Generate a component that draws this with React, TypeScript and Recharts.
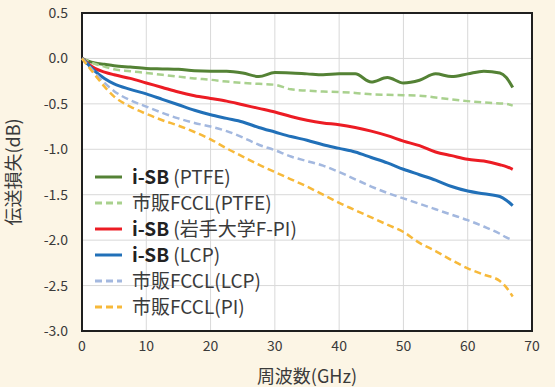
import { LineChart, Line, XAxis, YAxis, CartesianGrid, ReferenceArea } from 'recharts';

const freqGHz = [0, 1, 2, 3.5, 5, 7.5, 10, 12.5, 15, 17.5, 20, 22.5, 25, 27.5, 30, 32.5, 35, 37.5, 40, 42.5, 45, 47.5, 50, 52.5, 55, 57.5, 60, 62.5, 65, 66, 67];

const iSbPtfe = [0, -0.03, -0.05, -0.065, -0.08, -0.095, -0.11, -0.115, -0.12, -0.135, -0.14, -0.14, -0.16, -0.2, -0.155, -0.16, -0.17, -0.18, -0.17, -0.17, -0.26, -0.21, -0.27, -0.24, -0.17, -0.2, -0.17, -0.14, -0.16, -0.21, -0.32];
const fcclPtfe = [0, -0.03, -0.06, -0.09, -0.12, -0.14, -0.16, -0.18, -0.2, -0.22, -0.235, -0.255, -0.27, -0.28, -0.29, -0.34, -0.355, -0.365, -0.37, -0.38, -0.395, -0.4, -0.405, -0.41, -0.43, -0.45, -0.47, -0.485, -0.495, -0.5, -0.52];
const iSbFpi = [0, -0.06, -0.11, -0.15, -0.18, -0.22, -0.27, -0.32, -0.37, -0.41, -0.44, -0.47, -0.51, -0.55, -0.59, -0.64, -0.68, -0.71, -0.73, -0.76, -0.8, -0.85, -0.91, -0.96, -1.03, -1.07, -1.11, -1.13, -1.17, -1.19, -1.22];
const iSbLcp = [0, -0.07, -0.14, -0.22, -0.28, -0.34, -0.39, -0.45, -0.51, -0.57, -0.62, -0.66, -0.7, -0.76, -0.81, -0.86, -0.9, -0.95, -0.99, -1.03, -1.09, -1.15, -1.22, -1.28, -1.34, -1.41, -1.46, -1.49, -1.52, -1.56, -1.62];
const fcclLcp = [0, -0.08, -0.16, -0.27, -0.36, -0.46, -0.53, -0.6, -0.66, -0.71, -0.75, -0.8, -0.87, -0.95, -1.01, -1.08, -1.13, -1.18, -1.25, -1.33, -1.41, -1.48, -1.54, -1.6, -1.66, -1.72, -1.78, -1.85, -1.93, -1.97, -2.0];
const fcclPi = [0, -0.09, -0.18, -0.31, -0.42, -0.53, -0.61, -0.68, -0.74, -0.81, -0.89, -0.99, -1.08, -1.17, -1.25, -1.33, -1.41, -1.5, -1.59, -1.67, -1.75, -1.83, -1.91, -2.03, -2.12, -2.22, -2.31, -2.38, -2.45, -2.52, -2.62];

const xTicks = [0, 10, 20, 30, 40, 50, 60, 70];
const yTicks = [0.5, 0, -0.5, -1, -1.5, -2, -2.5, -3];

const series = [
  { key: 'iSbPtfe', bold: 'i-SB', rest: ' (PTFE)', color: '#548235', dash: undefined, values: iSbPtfe },
  { key: 'fcclPtfe', bold: '', rest: '市販FCCL(PTFE)', color: '#A9D18E', dash: '7 4', values: fcclPtfe },
  { key: 'iSbFpi', bold: 'i-SB', rest: ' (岩手大学F-PI)', color: '#EC1C24', dash: undefined, values: iSbFpi },
  { key: 'iSbLcp', bold: 'i-SB', rest: ' (LCP)', color: '#2170B8', dash: undefined, values: iSbLcp },
  { key: 'fcclLcp', bold: '', rest: '市販FCCL(LCP)', color: '#A3B8DF', dash: '7 4', values: fcclLcp },
  { key: 'fcclPi', bold: '', rest: '市販FCCL(PI)', color: '#F7B93A', dash: '7 4', values: fcclPi },
];

const data = freqGHz.map((f, i) => {
  const row: Record<string, number> = { f };
  series.forEach((s) => { row[s.key] = s.values[i]; });
  return row;
});

const FONT = '"Noto Sans CJK JP", "Noto Sans", sans-serif';
const TEXT = '#3a3a3a';

// legend sits inside the plot, bottom-left, no box
function LegendBox() {
  return (
    <svg width={320} height={166} style={{ position: 'absolute', left: 90, top: 160 }}>
      {series.map((s, i) => {
        const y = 17 + i * 26;
        return (
          <g key={s.key}>
            <line x1={5} x2={32} y1={y} y2={y} stroke={s.color} strokeWidth={3} strokeDasharray={s.dash} />
            <text x={42} y={y} dy="0.36em" fontSize={19} fill={TEXT} fontFamily={FONT}>
              {s.bold && <tspan fontWeight={700} fill="#222">{s.bold}</tspan>}
              <tspan>{s.rest}</tspan>
            </text>
          </g>
        );
      })}
    </svg>
  );
}

export default function App() {
  return (
    <div style={{ position: 'fixed', left: 0, top: 0, width: 555, height: 387, background: '#FCF5E5', fontFamily: FONT }}>
      <LineChart width={555} height={387} data={data} margin={{ top: 13, right: 23, left: 0, bottom: 0 }}>
        <CartesianGrid stroke="#D9D9D9" fill="#fff" horizontalValues={yTicks} verticalValues={xTicks} />
        <XAxis
          dataKey="f"
          type="number"
          domain={[0, 70]}
          ticks={xTicks}
          height={56}
          tickLine={false}
          axisLine={false}
          tickMargin={4}
          tick={{ fontSize: 14, fill: TEXT, fontFamily: FONT }}
          label={{ value: '周波数(GHz)', position: 'insideBottom', offset: 4, fontSize: 18, fill: TEXT, fontFamily: FONT }}
        />
        <YAxis
          type="number"
          domain={[-3, 0.5]}
          ticks={yTicks}
          width={82}
          tickLine={false}
          axisLine={false}
          tickMargin={8}
          tickFormatter={(v: number) => v.toFixed(1)}
          tick={{ fontSize: 14, fill: TEXT, fontFamily: FONT }}
          label={{ value: '伝送損失(dB)', angle: -90, position: 'insideLeft', offset: 14, fontSize: 18, fill: TEXT, fontFamily: FONT, style: { textAnchor: 'middle' } }}
        />
        {series.map((s) => (
          <Line
            key={s.key}
            dataKey={s.key}
            type="monotone"
            stroke={s.color}
            strokeWidth={s.dash ? 2.5 : 3}
            strokeDasharray={s.dash}
            dot={false}
            isAnimationActive={false}
          />
        ))}
        <ReferenceArea x1={0} x2={70} y1={-3} y2={0.5} fill="none" stroke="#1f1f1f" strokeWidth={2} />
      </LineChart>
      <LegendBox />
    </div>
  );
}
